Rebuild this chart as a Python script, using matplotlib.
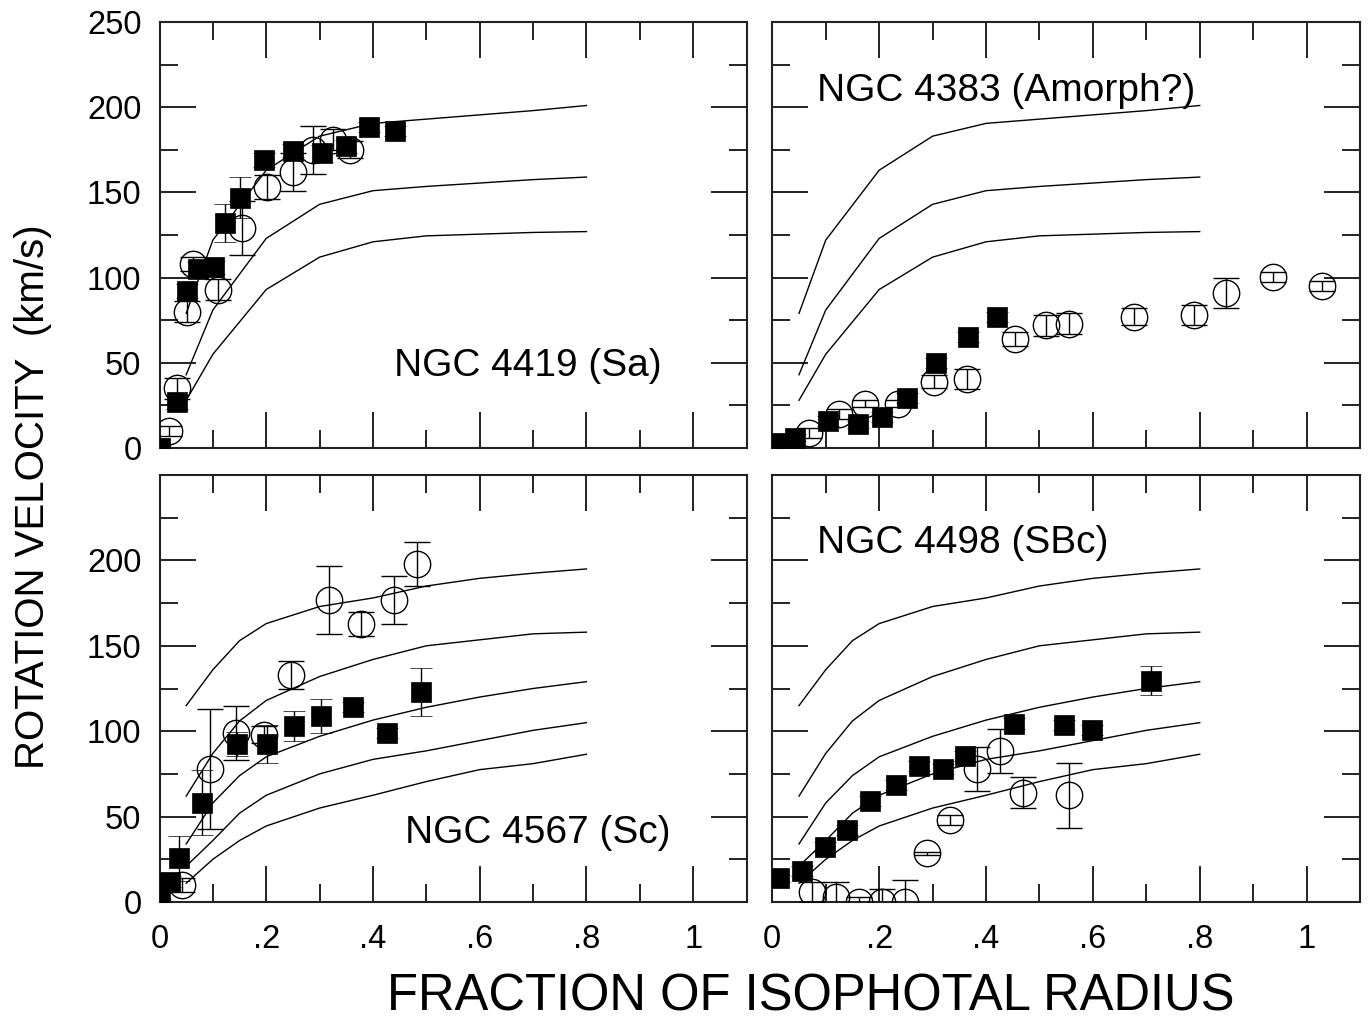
import matplotlib
matplotlib.use('Agg')
import matplotlib.pyplot as plt
from matplotlib.ticker import FixedLocator, MultipleLocator, NullFormatter

plt.rcParams['font.family'] = ['Liberation Sans', 'DejaVu Sans']

# model rotation curves (same set in the two upper / the two lower panels)
early_r = [0.05, 0.1, 0.2, 0.3, 0.4, 0.5, 0.6, 0.7, 0.8]
early_curves = [
    [79, 122, 163, 183, 190.5, 193, 195.5, 198, 201],
    [43, 81, 123, 143, 151, 153.5, 155.5, 157.5, 159],
    [28, 55, 93, 112, 121, 124.5, 125.5, 126.5, 127],
]
late_r = [0.05, 0.1, 0.15, 0.2, 0.3, 0.4, 0.5, 0.6, 0.7, 0.8]
late_curves = [
    [115, 136, 153, 163, 173, 178, 185, 189.5, 192.5, 195],
    [62, 87, 106, 118, 132, 142, 150, 153.5, 157, 158],
    [34, 58, 74, 85, 97, 106.5, 114, 120, 125, 129],
    [21, 36, 52, 62.5, 75, 83.5, 88.5, 94.5, 100.5, 105],
    [11, 25, 36, 44.5, 55, 62.5, 70.5, 77.5, 81, 86.5],
]

# NGC 4419 (Sa)
n4419_sq_r = [0.0, 0.032, 0.051, 0.073, 0.102, 0.123, 0.150, 0.196, 0.250, 0.304, 0.349, 0.393, 0.442]
n4419_sq_v = [0, 27, 92, 105, 106, 132, 147, 169, 174.5, 173, 177, 188.5, 186]
n4419_sq_e = [2, 4, 4, 4, 4, 11, 12, 4, 4, 5, 4, 3, 3]
n4419_ci_r = [0.017, 0.032, 0.051, 0.063, 0.110, 0.154, 0.201, 0.251, 0.288, 0.326, 0.357]
n4419_ci_v = [10, 35, 80, 108, 93, 129, 153, 162, 175, 181, 175]
n4419_ci_e = [3, 6, 6, 4, 6, 16, 7, 11, 14, 6, 5]

# NGC 4383 (Amorph?)
n4383_sq_r = [0.005, 0.043, 0.105, 0.160, 0.206, 0.252, 0.306, 0.366, 0.421]
n4383_sq_v = [3, 6, 16, 14, 18, 29.5, 50, 65, 77]
n4383_sq_e = [2, 2, 3, 2, 3, 3, 3, 3, 3]
n4383_ci_r = [0.068, 0.124, 0.173, 0.236, 0.302, 0.365, 0.455, 0.513, 0.555, 0.677, 0.789, 0.849, 0.938, 1.028]
n4383_ci_v = [9, 20, 26, 26, 39, 40.5, 64, 72, 73, 77, 78, 91, 100.5, 95]
n4383_ci_e = [3, 3, 2, 2, 4, 6, 4, 6, 6, 5, 6, 9, 3, 3]

# NGC 4567 (Sc)
n4567_sq_r = [0.0, 0.020, 0.037, 0.079, 0.145, 0.202, 0.252, 0.302, 0.363, 0.426, 0.490]
n4567_sq_v = [0, 12, 25.5, 58, 92.5, 92.5, 103, 109, 114, 99, 123]
n4567_sq_e = [2, 3, 13, 19, 7, 11, 9, 10, 3, 3, 14]
n4567_ci_r = [0.043, 0.095, 0.143, 0.195, 0.246, 0.318, 0.377, 0.440, 0.483]
n4567_ci_v = [10, 78, 99, 98, 133, 177, 163, 177, 198]
n4567_ci_e = [4, 35, 16, 5, 8, 20, 7, 14, 13]

# NGC 4498 (SBc)
n4498_sq_r = [0.013, 0.055, 0.099, 0.139, 0.183, 0.231, 0.275, 0.319, 0.361, 0.452, 0.546, 0.599, 0.708]
n4498_sq_v = [14, 18, 32, 42, 59, 68.5, 79.5, 78, 85.5, 104.5, 103.5, 100.5, 129.5]
n4498_sq_e = [2, 3, 3, 3, 3, 3, 3, 3, 3, 3, 3, 3, 8.5]
n4498_ci_r = [0.074, 0.119, 0.163, 0.205, 0.248, 0.290, 0.332, 0.383, 0.427, 0.469, 0.555]
n4498_ci_v = [6, 3, 0, 0, 0, 28.5, 48, 78, 88.5, 64, 62.5]
n4498_ci_e = [6, 9, 3, 7.5, 13, 1, 3, 13, 13, 9, 19]

xticks = [0, 0.2, 0.4, 0.6, 0.8, 1.0]
xticklabels = ['0', '.2', '.4', '.6', '.8', '1']

panels = [
    # pixel box, curves, data, label, label pos, show x labels, yticks
    ([159.5, 22, 587, 426], (early_r, early_curves),
     (n4419_sq_r, n4419_sq_v, n4419_sq_e, n4419_ci_r, n4419_ci_v, n4419_ci_e),
     'NGC 4419 (Sa)', (0.44, 48), False, [0, 50, 100, 150, 200, 250]),
    ([772.3, 22, 587.7, 426], (early_r, early_curves),
     (n4383_sq_r, n4383_sq_v, n4383_sq_e, n4383_ci_r, n4383_ci_v, n4383_ci_e),
     'NGC 4383 (Amorph?)', (0.084, 209.5), False, None),
    ([159.5, 475, 587, 427], (late_r, late_curves),
     (n4567_sq_r, n4567_sq_v, n4567_sq_e, n4567_ci_r, n4567_ci_v, n4567_ci_e),
     'NGC 4567 (Sc)', (0.46, 40.5), True, [0, 50, 100, 150, 200]),
    ([772.3, 475, 587.7, 427], (late_r, late_curves),
     (n4498_sq_r, n4498_sq_v, n4498_sq_e, n4498_ci_r, n4498_ci_v, n4498_ci_e),
     'NGC 4498 (SBc)', (0.084, 210), True, None),
]

W, H = 1370, 1025
fig = plt.figure(figsize=(W / 100, H / 100), dpi=100)
frame_c = '#222222'

for (px, py, pw, ph), (cr, curves), data, label, (lx, ly), showx, yt in panels:
    ax = fig.add_axes([px / W, 1 - (py + ph) / H, pw / W, ph / H])
    for c in curves:
        ax.plot(cr, c, color='k', lw=1.0, zorder=2)
    sr, sv, se, cr_, cv, ce = data
    ax.errorbar(cr_, cv, yerr=ce, fmt='o', ms=19, mfc='none', mec='k', mew=1.0,
                ecolor='k', elinewidth=1.0, capsize=9.5, capthick=1.0, zorder=3)
    ax.errorbar(sr, sv, yerr=se, fmt='s', ms=14, mfc='k', mec='k', mew=0.5,
                ecolor='k', elinewidth=1.0, capsize=8, capthick=1.0, zorder=4)
    ax.text(lx, ly, label, fontsize=28, ha='left', va='center', zorder=5)

    ax.set_xlim(0, 1.1)
    ax.set_ylim(0, 250)
    ax.xaxis.set_major_locator(FixedLocator(xticks))
    ax.xaxis.set_minor_locator(MultipleLocator(0.1))
    ax.yaxis.set_major_locator(MultipleLocator(50))
    ax.yaxis.set_minor_locator(MultipleLocator(25))
    ax.tick_params(which='both', direction='in', top=True, right=True,
                   width=1.4, color=frame_c, labelsize=23.5)
    ax.tick_params(which='major', length=26)
    ax.tick_params(which='minor', length=13)
    ax.tick_params(axis='x', pad=16)
    ax.tick_params(axis='y', pad=13)
    if showx:
        ax.set_xticklabels(xticklabels)
    else:
        ax.xaxis.set_major_formatter(NullFormatter())
    if yt is not None:
        ax.set_yticks(yt)
        ax.set_yticklabels([str(v) for v in yt])
        ax.yaxis.set_minor_locator(MultipleLocator(25))
    else:
        ax.yaxis.set_major_formatter(NullFormatter())
    for sp in ax.spines.values():
        sp.set_color(frame_c)
        sp.set_linewidth(1.5)

fig.text(811 / W, 1 - 997 / H, 'FRACTION OF ISOPHOTAL RADIUS', fontsize=36.5,
         ha='center', va='center')
fig.text(33 / W, 1 - 497 / H, 'ROTATION VELOCITY  (km/s)', fontsize=29,
         rotation=90, ha='center', va='center')

fig.savefig('out.png', dpi=100)
